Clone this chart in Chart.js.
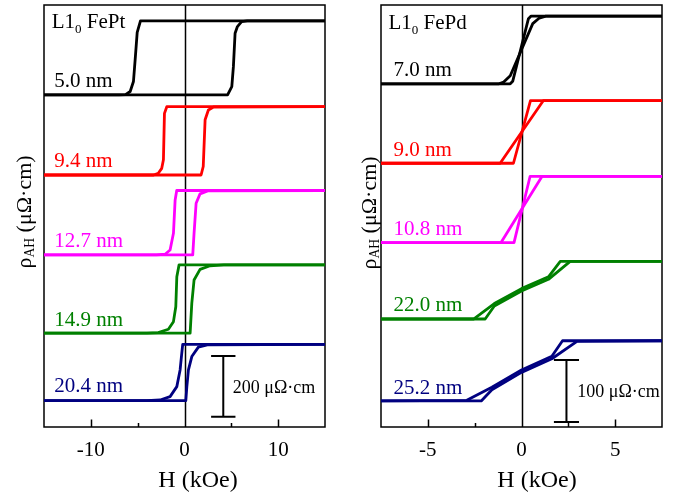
<!DOCTYPE html>
<html>
<head>
<meta charset="utf-8">
<script src="https://cdn.jsdelivr.net/npm/chart.js@4.4.1/dist/chart.umd.min.js"></script>
<style>
  body { margin: 0; background: #fff; }
  canvas { position: absolute; top: 0; }
  #fept { left: 0; }
  #fepd { left: 340px; }
</style>
</head>
<body>
<canvas id="fept" width="340" height="494"></canvas>
<canvas id="fepd" width="340" height="494"></canvas>
<script>
// ---- data: H (kOe) vs rho_AH (uOhm cm), curves stacked as in the figure ----

// L1_0 FePt, two branches per thickness
const ptThick = ['5.0 nm', '9.4 nm', '12.7 nm', '14.9 nm', '20.4 nm'];
const pt50Up = [[-15,1094],[4.6,1094],[5.05,1121],[5.22,1187],[5.4,1297],[5.65,1319],[6.1,1335],[6.7,1338],[15,1338]];
const pt50Dn = [[15,1338],[-4.7,1338],[-5.05,1300],[-5.27,1209],[-5.45,1138],[-5.8,1105],[-6.3,1095],[-7,1094],[-15,1094]];
const pt94Up = [[-15,830],[1.77,830],[2.0,858],[2.2,1012],[2.55,1044],[3.1,1054],[15,1055]];
const pt94Dn = [[15,1055],[-1.89,1055],[-2.14,1033],[-2.25,880],[-2.43,852],[-2.8,836],[-3.3,830],[-15,830]];
const pt127Up = [[-15,567],[0.88,567],[1.02,638],[1.24,737],[1.66,768],[2.55,778],[15,779]];
const pt127Dn = [[15,779],[-0.83,779],[-1.0,748],[-1.18,638],[-1.54,583],[-2.07,569],[-3.0,567],[-15,567]];
const pt149Up = [[-15,309],[0.6,309],[0.78,408],[1.02,484],[1.66,519],[2.73,531],[4.2,534],[15,534]];
const pt149Dn = [[15,534],[-0.58,534],[-0.82,495],[-0.93,396],[-1.18,347],[-1.72,322],[-2.8,311],[-4.0,309],[-15,309]];
const pt204Up = [[-15,87],[0.14,87],[0.25,133],[0.42,188],[0.78,232],[1.48,263],[2.55,271],[15,272]];
const pt204Dn = [[15,272],[-0.19,272],[-0.29,243],[-0.47,188],[-0.82,133],[-1.54,100],[-2.6,89],[-4,87],[-15,87]];

// L1_0 FePd
const pdThick = ['7.0 nm', '9.0 nm', '10.8 nm', '22.0 nm', '25.2 nm'];
const pd70Up = [[-7.5,553],[-0.6,553],[-0.47,557],[0.37,658],[0.5,662],[7.5,662]];
const pd70Dn = [[7.5,662],[1.3,662],[0.95,659],[0.6,650],[-0.6,566],[-0.95,556],[-1.2,553],[-7.5,553]];
const pd90Up = [[-7.5,425],[-0.43,425],[0.48,526],[7.5,526]];
const pd90Dn = [[7.5,526],[1.17,526],[-1.14,425],[-7.5,425]];
const pd108Up = [[-7.5,297],[-0.4,297],[0.46,404],[7.5,404]];
const pd108Dn = [[7.5,404],[1.1,404],[-1.1,297],[-7.5,297]];
const pd220Up = [[-7.5,174],[-1.94,174],[-1.45,195],[0,219],[1.44,238],[2.6,267],[7.5,267]];
const pd220Dn = [[7.5,267],[2.07,267],[1.44,242],[0,223],[-1.45,199],[-2.56,174],[-7.5,174]];
const pd252Up = [[-7.5,42],[-2.15,42],[-1.58,60],[0,88],[1.62,110],[2.96,138],[7.5,139]];
const pd252Dn = [[7.5,139],[2.19,139],[1.62,114],[0,92],[-1.58,64],[-2.92,43],[-7.5,42]];

// scale bars: [H, bottom, top]
const ptBar = [4.14, 34, 234];   // 200 uOhm cm
const pdBar = [2.4, 8, 108];     // 100 uOhm cm

const xTicksPt = [-10, -5, 0, 5, 10];
const xTicksPd = [-5, -2.5, 0, 2.5, 5];

// ---- styling ----
const SERIF = "'Liberation Serif', 'Times New Roman', serif";
const COLORS = ['#000000', '#ff0000', '#ff00ff', '#008000', '#000080'];

const pts = arr => arr.map(([x, y]) => ({ x, y }));

function loopSets(branches) {
  return branches.flatMap((pair, i) => pair.map(b => ({
    data: pts(b),
    borderColor: COLORS[i],
    borderWidth: 2.8,
    borderJoinStyle: 'round',
    pointRadius: 0,
    tension: 0,
    fill: false
  })));
}

function barSet(bar, capHalf) {
  const [h, lo, hi] = bar;
  return {
    data: [
      { x: h - capHalf, y: hi }, { x: h + capHalf, y: hi }, { x: h, y: null },
      { x: h, y: hi }, { x: h, y: lo }, { x: h + capHalf, y: null },
      { x: h - capHalf, y: lo }, { x: h + capHalf, y: lo }
    ],
    borderColor: '#000', borderWidth: 2, pointRadius: 0, spanGaps: false, fill: false
  };
}

// rich text with subscripts: segs = [[text, isSub], ...]
function richWidth(ctx, segs, size) {
  let w = 0;
  segs.forEach(([t, sub]) => {
    ctx.font = `${sub ? size * 0.62 : size}px ${SERIF}`;
    w += ctx.measureText(t).width;
  });
  return w;
}
function drawRich(ctx, segs, x, y, size) {
  let cx = x;
  segs.forEach(([t, sub]) => {
    ctx.font = `${sub ? size * 0.62 : size}px ${SERIF}`;
    ctx.fillText(t, cx, sub ? y + size * 0.24 : y);
    cx += ctx.measureText(t).width;
  });
}

const framePlugin = {
  id: 'frame',
  beforeDatasetsDraw(chart) {
    const { ctx, chartArea: a, scales: { x } } = chart;
    const major = chart.options.plugins.frame.major;
    ctx.save();
    ctx.strokeStyle = '#000';
    ctx.lineWidth = 1.5;
    const x0 = Math.round(x.getPixelForValue(0)) + 0.5;
    ctx.beginPath();
    ctx.moveTo(x0, a.top); ctx.lineTo(x0, a.bottom);
    x.ticks.forEach(t => {
      const px = Math.round(x.getPixelForValue(t.value)) + 0.5;
      const len = Math.abs(t.value % major) < 1e-9 ? 7.5 : 4;
      ctx.moveTo(px, a.bottom); ctx.lineTo(px, a.bottom - len);
    });
    ctx.stroke();
    ctx.strokeRect(a.left, a.top, a.width, a.height);
    ctx.restore();
  }
};

const notesPlugin = {
  id: 'notes',
  afterDraw(chart) {
    const o = chart.options.plugins.notes;
    const { ctx, scales: { x, y } } = chart;
    ctx.save();
    ctx.textBaseline = 'alphabetic';
    ctx.textAlign = 'left';
    o.items.forEach(it => {
      ctx.fillStyle = it.color || '#000';
      drawRich(ctx, it.segs, x.getPixelForValue(it.at[0]), y.getPixelForValue(it.at[1]), it.size);
    });
    // x title
    ctx.fillStyle = '#000';
    const xt = [['H (kOe)', false]];
    drawRich(ctx, xt, o.xTitle[0] - richWidth(ctx, xt, 24) / 2, o.xTitle[1], 24);
    // y title, rotated
    const yt = [['\u03c1', false], ['AH', true], [' (\u03bc\u03a9\u00b7cm)', false]];
    ctx.translate(o.yTitle[0], o.yTitle[1]);
    ctx.rotate(-Math.PI / 2);
    ctx.textBaseline = 'middle';
    drawRich(ctx, yt, -richWidth(ctx, yt, 22) / 2, 0, 22);
    ctx.restore();
  }
};

function makeChart(id, cfg) {
  return new Chart(document.getElementById(id), {
    type: 'line',
    data: { datasets: [...loopSets(cfg.branches), barSet(cfg.bar, cfg.capHalf)] },
    options: {
      responsive: false,
      animation: false,
      layout: { padding: cfg.padding },
      plugins: {
        legend: { display: false },
        tooltip: { enabled: false },
        frame: { major: cfg.major },
        notes: { items: cfg.items, xTitle: cfg.xTitle, yTitle: cfg.yTitle }
      },
      scales: {
        x: {
          type: 'linear', min: cfg.xMin, max: cfg.xMax,
          afterBuildTicks: s => { s.ticks = cfg.xTicks.map(v => ({ value: v })); },
          afterFit: s => { s.height = 67; },
          grid: { display: false, drawTicks: false },
          border: { display: false },
          ticks: {
            padding: 11, color: '#000', maxRotation: 0, autoSkip: false,
            font: { family: SERIF, size: 21 },
            callback: v => Math.abs(v % cfg.major) < 1e-9 ? String(v) : ''
          }
        },
        y: { type: 'linear', min: 0, max: cfg.yMax, display: false }
      }
    },
    plugins: [framePlugin, notesPlugin]
  });
}

const lbl = (text, at, color) => ({ segs: [[text, false]], at, color, size: 21 });

makeChart('fept', {
  branches: [[pt50Up, pt50Dn], [pt94Up, pt94Dn], [pt127Up, pt127Dn], [pt149Up, pt149Dn], [pt204Up, pt204Dn]],
  bar: ptBar, capHalf: 1.3,
  xMin: -15, xMax: 15, yMax: 1390, xTicks: xTicksPt, major: 10,
  padding: { left: 44, right: 15, top: 5, bottom: 0 },
  xTitle: [198, 487], yTitle: [25, 212],
  items: [
    { segs: [['L1', false], ['0', true], [' FePt', false]], at: [-14.17, 1313], size: 21 },
    lbl(ptThick[0], [-13.9, 1121], COLORS[0]),
    lbl(ptThick[1], [-13.9, 856], COLORS[1]),
    lbl(ptThick[2], [-13.9, 594], COLORS[2]),
    lbl(ptThick[3], [-13.9, 334], COLORS[3]),
    lbl(ptThick[4], [-13.9, 114], COLORS[4]),
    { segs: [['200 \u03bc\u03a9\u00b7cm', false]], at: [5.15, 111], size: 18 }
  ]
});

makeChart('fepd', {
  branches: [[pd70Up, pd70Dn], [pd90Up, pd90Dn], [pd108Up, pd108Dn], [pd220Up, pd220Dn], [pd252Up, pd252Dn]],
  bar: pdBar, capHalf: 0.67,
  xMin: -7.5, xMax: 7.5, yMax: 680, xTicks: xTicksPd, major: 5,
  padding: { left: 41, right: 18, top: 5, bottom: 0 },
  xTitle: [197, 487], yTitle: [30.5, 213],
  items: [
    { segs: [['L1', false], ['0', true], [' FePd', false]], at: [-7.1, 642], size: 21 },
    lbl(pdThick[0], [-6.83, 566], COLORS[0]),
    lbl(pdThick[1], [-6.83, 437], COLORS[1]),
    lbl(pdThick[2], [-6.83, 309], COLORS[2]),
    lbl(pdThick[3], [-6.83, 187], COLORS[3]),
    lbl(pdThick[4], [-6.83, 53], COLORS[4]),
    { segs: [['100 \u03bc\u03a9\u00b7cm', false]], at: [2.98, 49], size: 18 }
  ]
});
</script>
</body>
</html>
